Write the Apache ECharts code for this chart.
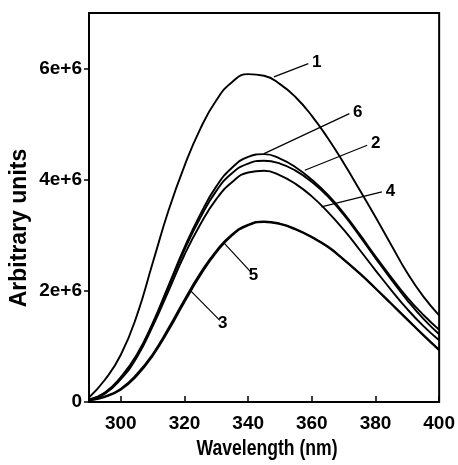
<!DOCTYPE html>
<html>
<head>
<meta charset="utf-8">
<script src="https://cdn.jsdelivr.net/npm/echarts@6/dist/echarts.min.js"></script>
<style>
  html, body { margin: 0; padding: 0; background: #fff; }
  #main { width: 458px; height: 465px; }
</style>
</head>
<body>
<div id="main"></div>
<script>
// wavelength (nm)
var wavelength = [290, 295, 300, 305, 310, 315, 320, 325, 330, 335, 340, 345, 350, 355, 360, 365, 370, 375, 380, 385, 390, 395, 400];
// intensities, in units of 1e6
var curve1 = [0.08, 0.40, 0.85, 1.55, 2.50, 3.45, 4.25, 4.92, 5.43, 5.76, 5.90, 5.87, 5.72, 5.48, 5.15, 4.75, 4.30, 3.82, 3.33, 2.82, 2.32, 1.90, 1.56];
var curve2 = [0.04, 0.16, 0.43, 0.83, 1.40, 2.07, 2.74, 3.32, 3.80, 4.12, 4.29, 4.34, 4.29, 4.16, 3.96, 3.70, 3.37, 2.99, 2.59, 2.20, 1.83, 1.50, 1.22];
var curve3 = [0.03, 0.09, 0.22, 0.47, 0.83, 1.29, 1.80, 2.28, 2.69, 3.00, 3.18, 3.24, 3.20, 3.10, 2.96, 2.79, 2.56, 2.31, 2.04, 1.76, 1.48, 1.20, 0.93];
var curve4 = [0.04, 0.15, 0.41, 0.80, 1.36, 2.00, 2.65, 3.20, 3.65, 3.96, 4.13, 4.16, 4.08, 3.92, 3.70, 3.42, 3.10, 2.74, 2.37, 2.01, 1.67, 1.37, 1.11];
var curve5 = [0.03, 0.10, 0.24, 0.50, 0.86, 1.33, 1.84, 2.32, 2.72, 3.02, 3.19, 3.25, 3.21, 3.11, 2.97, 2.80, 2.57, 2.32, 2.05, 1.77, 1.49, 1.21, 0.94];
var curve6 = [0.04, 0.17, 0.45, 0.85, 1.42, 2.10, 2.78, 3.38, 3.88, 4.22, 4.41, 4.46, 4.38, 4.22, 4.00, 3.73, 3.40, 3.02, 2.62, 2.24, 1.88, 1.57, 1.30];
var curveNames = ['1', '2', '3', '4', '5', '6'];
var curves = [curve1, curve2, curve3, curve4, curve5, curve6];
// leader lines for the curve numbers: [x1, y1, x2, y2] (nm, 1e6)
var leaders = [
  [348.1, 5.85, 358.9, 6.09],
  [357.8, 4.17, 377.4, 4.62],
  [321.8, 2.01, 331.1, 1.47],
  [363.0, 3.51, 382.0, 3.78],
  [332.6, 2.85, 340.8, 2.34],
  [345.0, 4.47, 371.8, 5.19]
];
var xTicks = [300, 320, 340, 360, 380, 400];
var yTicks = [0, 2e6, 4e6, 6e6];

var myChart = echarts.init(document.getElementById('main'));

function toPairs(vals) {
  var out = [];
  for (var i = 0; i < wavelength.length; i++) {
    out.push([wavelength[i], vals[i] * 1e6]);
  }
  return out;
}

var series = [];
for (var k = 0; k < curves.length; k++) {
  var l = leaders[k];
  series.push({
    name: curveNames[k],
    type: 'line',
    data: toPairs(curves[k]),
    smooth: true,
    showSymbol: false,
    lineStyle: { color: '#000', width: 1.9 },
    markLine: {
      silent: true,
      symbol: ['none', 'none'],
      lineStyle: { color: '#000', width: 1.2, type: 'solid' },
      label: {
        show: true,
        position: 'end',
        formatter: curveNames[k],
        color: '#000',
        fontFamily: 'Liberation Sans',
        fontWeight: 'bold',
        fontSize: 17,
        distance: 4
      },
      data: [[{ coord: [l[0], l[1] * 1e6] }, { coord: [l[2], l[3] * 1e6] }]]
    }
  });
}

var option = {
  animation: false,
  grid: {
    left: 89, right: 12, top: 13, bottom: 63,
    show: true, borderColor: '#000', borderWidth: 2
  },
  xAxis: {
    type: 'value',
    min: 290, max: 400,
    axisLine: { lineStyle: { color: '#000', width: 2 } },
    axisTick: { inside: true, length: 6, customValues: xTicks, lineStyle: { color: '#000', width: 1.5 } },
    axisLabel: { customValues: xTicks, margin: 12, color: '#000', fontFamily: 'Liberation Sans', fontWeight: 'bold', fontSize: 19 },
    splitLine: { show: false }
  },
  yAxis: {
    type: 'value',
    min: 0, max: 7e6,
    axisLine: { show: true, lineStyle: { color: '#000', width: 2 } },
    axisTick: { show: true, length: 5, customValues: yTicks, lineStyle: { color: '#000', width: 1.5 } },
    axisLabel: {
      customValues: yTicks, margin: 7, color: '#000',
      fontFamily: 'Liberation Sans', fontWeight: 'bold', fontSize: 19,
      formatter: function (v) { return v === 0 ? '0' : (v / 1e6) + 'e+6'; }
    },
    splitLine: { show: false }
  },
  graphic: [{
    type: 'text',
    x: 20, y: 228,
    rotation: Math.PI / 2,
    style: {
      text: 'Arbitrary units',
      fill: '#000',
      font: 'bold 23px "Liberation Sans"',
      align: 'center',
      verticalAlign: 'middle'
    }
  }, {
    type: 'text',
    x: 267, y: 449,
    scaleX: 0.8,
    style: {
      text: 'Wavelength (nm)',
      fill: '#000',
      font: 'bold 22px "Liberation Sans"',
      align: 'center',
      verticalAlign: 'middle'
    }
  }],
  series: series
};

myChart.setOption(option);
</script>
</body>
</html>
